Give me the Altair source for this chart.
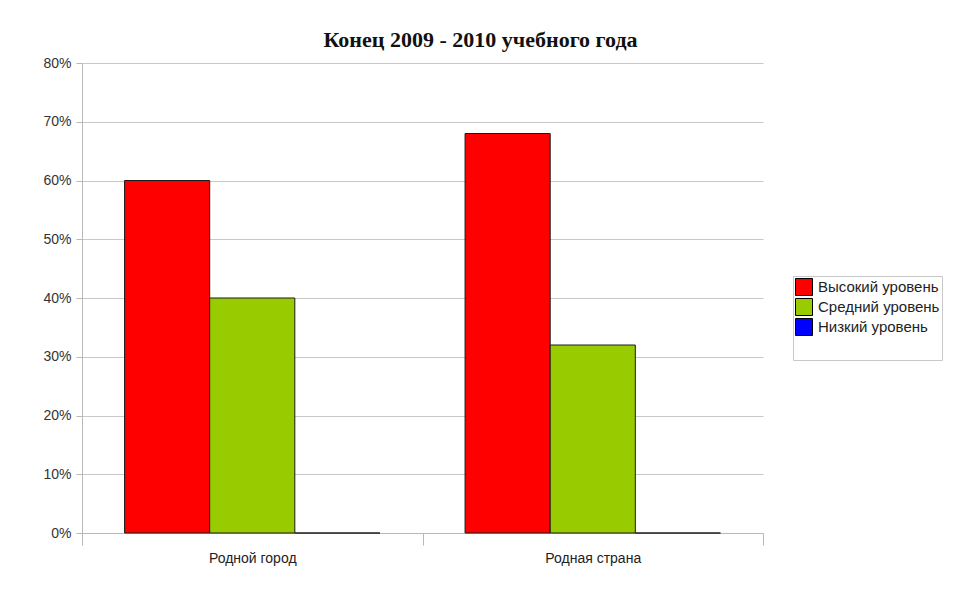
import altair as alt
import pandas as pd

categories = ["Родной город", "Родная страна"]
levels = ["Высокий уровень", "Средний уровень", "Низкий уровень"]
high = [0.60, 0.68]
mid = [0.40, 0.32]
low = [0.0, 0.0]
colors = ["#FF0000", "#99CC00", "#0000FF"]
y_ticks = [0, 0.1, 0.2, 0.3, 0.4, 0.5, 0.6, 0.7, 0.8]

rows = []
for i, c in enumerate(categories):
    for lvl, vals in zip(levels, [high, mid, low]):
        rows.append({"cat": c, "level": lvl, "value": vals[i]})
df = pd.DataFrame(rows)

chart = alt.Chart(df).mark_bar(stroke="#1a1a1a", strokeWidth=1).encode(
    x=alt.X("cat:N", sort=categories, title=None,
            scale=alt.Scale(paddingInner=0, paddingOuter=0),
            axis=alt.Axis(labelAngle=0, tickBand="extent", tickSize=12,
                          labelPadding=6, labelFontSize=14, labelColor="#222",
                          domainColor="#b8b8b8", tickColor="#b8b8b8",
                          labelFont="Liberation Sans")),
    xOffset=alt.XOffset("level:N", sort=levels,
                        scale=alt.Scale(paddingInner=0, paddingOuter=0.5)),
    y=alt.Y("value:Q", title=None,
            scale=alt.Scale(domain=[0, 0.8], nice=False),
            axis=alt.Axis(values=y_ticks, format=".0%", tickSize=6,
                          labelPadding=5, labelFontSize=14, labelColor="#333",
                          labelFont="Liberation Sans",
                          gridColor="#c8c8c8", domainColor="#b8b8b8",
                          tickColor="#b8b8b8")),
    color=alt.Color("level:N", sort=levels,
                    scale=alt.Scale(domain=levels, range=colors),
                    legend=alt.Legend(
                        orient="none", legendX=711, legendY=213,
                        title="\u2003" * 12, titleOrient="bottom",
                        titleFontSize=18, titlePadding=2, titleLimit=1000,
                        symbolType="square", symbolSize=289,
                        symbolStrokeColor="#000", symbolStrokeWidth=1,
                        symbolOpacity=1, rowPadding=-8,
                        labelFontSize=15, labelFont="Liberation Sans",
                        labelColor="#222", labelOffset=5, labelLimit=400,
                        padding=2, strokeColor="#c8c8c8", fillColor="#ffffff")),
).properties(
    width=681, height=470,
    autosize=alt.AutoSizeParams(type="none"),
    padding={"left": 74, "top": 55, "right": 188, "bottom": 48},
    title=alt.TitleParams("Конец 2009 - 2010 учебного года",
                          font="Liberation Serif", fontSize=22,
                          fontWeight="bold", color="#111",
                          anchor="middle", dx=58, dy=36, offset=18,
                          baseline="bottom"),
).configure_view(stroke="transparent")

chart.save("out.html", embed_options={"renderer": "svg", "actions": False})
